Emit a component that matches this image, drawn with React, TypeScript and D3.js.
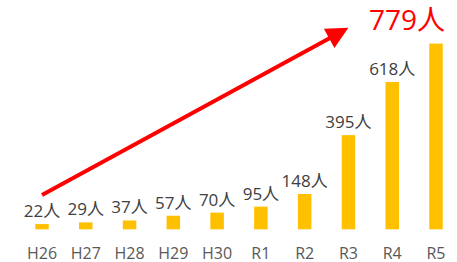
import React from "react";
import * as d3 from "d3";

const years = ["H26", "H27", "H28", "H29", "H30", "R1", "R2", "R3", "R4", "R5"];
const counts = [22, 29, 37, 57, 70, 95, 148, 395, 618, 779];
const unit = "人";
// arrow drawn from the first year to R3, in data units
const arrowFrom = { year: "H26", value: 144 };
const arrowTo = { year: "R3", value: 845 };

const W = 457;
const H = 262;
const FONT = "'Open Sans', 'Noto Sans CJK JP', sans-serif";

const App = () => {
	const x = d3.scalePoint<string>().domain(years).range([42, 436]);
	const y = d3.scaleLinear().domain([0, 800]).range([229.3, 229.3 - 800 * 0.2384]);
	const barW = 13.5;

	// arrow geometry
	const x1 = x(arrowFrom.year)!;
	const y1 = y(arrowFrom.value);
	const x2 = x(arrowTo.year)!;
	const y2 = y(arrowTo.value);
	const ang = Math.atan2(y2 - y1, x2 - x1);
	const headLen = 22;
	const headHalf = 11;
	const bx = x2 - headLen * Math.cos(ang);
	const by = y2 - headLen * Math.sin(ang);
	const px = -Math.sin(ang) * headHalf;
	const py = Math.cos(ang) * headHalf;
	const head = [
		[x2, y2],
		[bx + px, by + py],
		[bx - px, by - py],
	];
	const last = years.length - 1;

	return (
		<svg width={W} height={H} style={{ position: "absolute", left: 0, top: 0, background: "#fff" }}>
			{years.map((yr, i) => (
				<rect key={yr} x={x(yr)! - barW / 2} y={y(counts[i])} width={barW}
					height={y(0) - y(counts[i])} fill="#FFC000" />
			))}
			{years.map((yr, i) => i === last ? null : (
				<text key={"v" + yr} x={x(yr)} y={y(counts[i]) - 7} textAnchor="middle"
					fontFamily={FONT} fontSize={17} fill="#404040">{counts[i] + unit}</text>
			))}
			{years.map(yr => (
				<text key={"t" + yr} x={x(yr)} y={258.5} textAnchor="middle"
					fontFamily={FONT} fontSize={16} fill="#595959">{yr}</text>
			))}
			<line x1={x1} y1={y1} x2={bx + 2 * Math.cos(ang)} y2={by + 2 * Math.sin(ang)}
				stroke="#FF0000" strokeWidth={4} />
			<polygon points={head.map(p => p.join(",")).join(" ")} fill="#FF0000" />
			<text x={x(years[last])! - 29} y={29.5} textAnchor="middle"
				fontFamily={FONT} fontSize={28} fill="#FF0000">{counts[last] + unit}</text>
		</svg>
	);
};

export default App;
